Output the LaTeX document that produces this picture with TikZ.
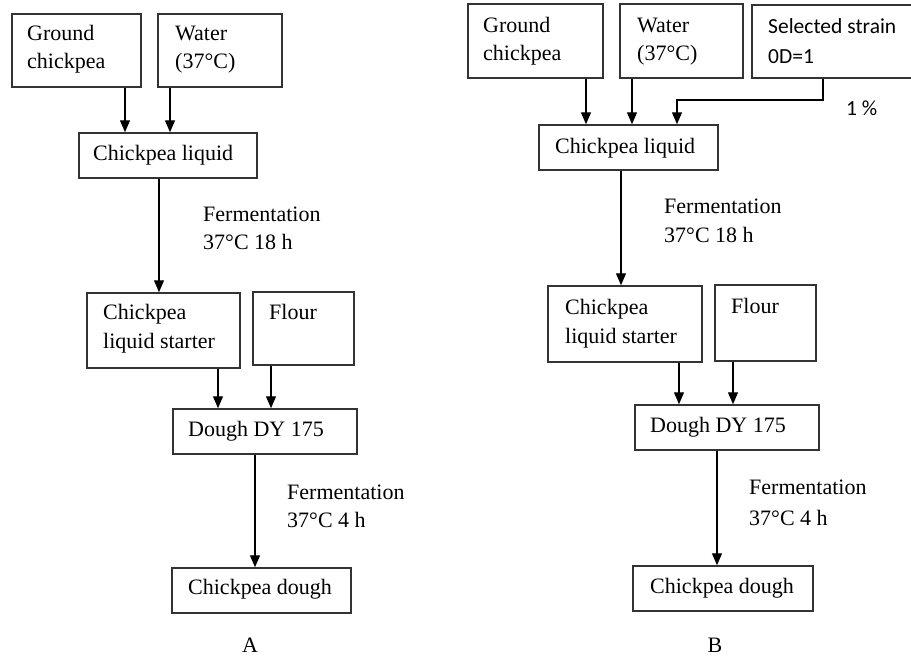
\documentclass[tikz,border=0pt]{standalone}
\usepackage{fontspec}
\setmainfont{Liberation Serif}
\newfontfamily\calib{Carlito}
\usetikzlibrary{arrows.meta}
\begin{document}
\begin{tikzpicture}[x=1pt,y=-1pt,
  box/.style={draw=black!80, line width=1.5pt, inner sep=0pt},
  arr/.style={draw=black, line width=1.2pt, -{Triangle[length=12pt,width=10pt]}},
  txt/.style={anchor=base west, inner sep=0pt, font=\fontsize{22}{26}\selectfont},
  stxt/.style={anchor=base west, inner sep=0pt, font=\calib\fontsize{21.5}{26}\selectfont},
  captxt/.style={anchor=base, inner sep=0pt, font=\fontsize{22}{26}\selectfont}]
\useasboundingbox[fill=white] (0,0) rectangle (911,656);

% ---------- Panel A ----------
\node[box, minimum width=129pt, minimum height=73pt] (gA) at (76.5,50.5) {};
\node[box, minimum width=124pt, minimum height=73pt] (wA) at (220,50.5) {};
\node[box, minimum width=178pt, minimum height=45pt] (clA) at (168,155.5) {};
\node[box, minimum width=153pt, minimum height=75pt] (sA) at (163.5,330.5) {};
\node[box, minimum width=101pt, minimum height=73pt] (fA) at (303.5,328.5) {};
\node[box, minimum width=184pt, minimum height=45pt] (dA) at (265,431.5) {};
\node[box, minimum width=179pt, minimum height=45pt] (cdA) at (261.5,590.5) {};

\node[txt] (tgA1) at (27,40) {Ground};
\node[txt] (tgA2) at (27,68) {chickpea};
\node[txt] (twA1) at (175,40) {Water};
\node[txt] (twA2) at (175,68) {(37°C)};
\node[txt] (tclA) at (93,160) {Chickpea liquid};
\node[txt] (fe1A1) at (203,221) {Fermentation};
\node[txt] (fe1A2) at (203,249) {37°C 18 h};
\node[txt] (tsA1) at (103,319) {Chickpea};
\node[txt] (tsA2) at (103,348) {liquid starter};
\node[txt] (tfA) at (269,319) {Flour};
\node[txt] (tdA) at (188,436) {Dough DY 175};
\node[txt] (fe2A1) at (287,499) {Fermentation};
\node[txt] (fe2A2) at (287,527) {37°C 4 h};
\node[txt] (tcdA) at (188,594) {Chickpea dough};
\node[captxt] (capA) at (250,652) {A};

\draw[arr] (125,0 |- gA.south) -- (125,0 |- clA.north);
\draw[arr] (170,0 |- wA.south) -- (170,0 |- clA.north);
\draw[arr] (159,0 |- clA.south) -- (159,0 |- sA.north);
\draw[arr] (218,0 |- sA.south) -- (218,0 |- dA.north);
\draw[arr] (271,0 |- fA.south) -- (271,0 |- dA.north);
\draw[arr] (255,0 |- dA.south) -- (255,0 |- cdA.north);

% ---------- Panel B ----------
\node[box, minimum width=135pt, minimum height=74pt] (gB) at (535.5,41) {};
\node[box, minimum width=123pt, minimum height=74pt] (wB) at (681.5,41) {};
\node[box, minimum width=161pt, minimum height=73pt] (ssB) at (832.5,41.5) {};
\node[box, minimum width=179pt, minimum height=45pt] (clB) at (628.5,147.5) {};
\node[box, minimum width=154pt, minimum height=76pt] (sB) at (625,324) {};
\node[box, minimum width=101pt, minimum height=76pt] (fB) at (765.5,323) {};
\node[box, minimum width=184pt, minimum height=45pt] (dB) at (727,427.5) {};
\node[box, minimum width=180pt, minimum height=45pt] (cdB) at (723,588.5) {};

\node[txt] (tgB1) at (483,32) {Ground};
\node[txt] (tgB2) at (483,60) {chickpea};
\node[txt] (twB1) at (637,32) {Water};
\node[txt] (twB2) at (637,60) {(37°C)};
\node[stxt] (tssB1) at (768,33) {Selected strain};
\node[stxt] (tssB2) at (768,63) {0D=1};
\node[stxt] (pct) at (846,115) {1 \%};
\node[txt] (tclB) at (555,153) {Chickpea liquid};
\node[txt] (fe1B1) at (664,213) {Fermentation};
\node[txt] (fe1B2) at (664,242) {37°C 18 h};
\node[txt] (tsB1) at (565,314) {Chickpea};
\node[txt] (tsB2) at (565,343) {liquid starter};
\node[txt] (tfB) at (731,313) {Flour};
\node[txt] (tdB) at (650,432) {Dough DY 175};
\node[txt] (fe2B1) at (749,494) {Fermentation};
\node[txt] (fe2B2) at (749,525) {37°C 4 h};
\node[txt] (tcdB) at (650,593) {Chickpea dough};
\node[captxt] (capB) at (715,652) {B};

\coordinate (elbow1) at (823,100);
\coordinate (elbow2) at (677,100);
\draw[arr] (586,0 |- gB.south) -- (586,0 |- clB.north);
\draw[arr] (632,0 |- wB.south) -- (632,0 |- clB.north);
\draw[arr] (823,0 |- ssB.south) -- (elbow1) -- (elbow2) -- (677,0 |- clB.north);
\draw[arr] (621,0 |- clB.south) -- (621,0 |- sB.north);
\draw[arr] (679,0 |- sB.south) -- (679,0 |- dB.north);
\draw[arr] (733,0 |- fB.south) -- (733,0 |- dB.north);
\draw[arr] (717,0 |- dB.south) -- (717,0 |- cdB.north);
\end{tikzpicture}
\end{document}
